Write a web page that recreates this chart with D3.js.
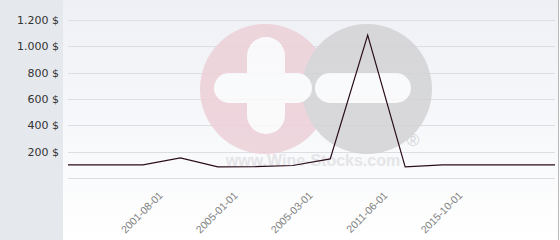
<!DOCTYPE html>
<html>
<head>
<meta charset="utf-8">
<title>wine price chart</title>
<style>
  body { margin: 0; background: #fff; }
  svg { display: block; }
</style>
</head>
<body>
<script src="https://d3js.org/d3.v7.min.js"></script>
<script>
// data
var xLabels = ["", "", "2001-08-01", "", "2005-01-01", "", "2005-03-01", "", "2011-06-01", "", "2015-10-01", "", "", ""];
var prices = [100, 100, 100, 152, 84, 86, 95, 145, 1086, 84, 100, 100, 100, 100];
var yTicks = [0, 200, 400, 600, 800, 1000, 1200];

var width = 560, height = 240;

var svg = d3.select("body").append("svg")
    .attr("width", width).attr("height", height);

var defs = svg.append("defs");
var grad = defs.append("linearGradient").attr("id", "bg")
    .attr("x1", 0).attr("y1", 0).attr("x2", 0).attr("y2", 1);
grad.append("stop").attr("offset", "0%").attr("stop-color", "#eef0f5");
grad.append("stop").attr("offset", "100%").attr("stop-color", "#ffffff");

// left panel + plot background
svg.append("rect").attr("x", 0).attr("y", 0).attr("width", 63).attr("height", height).attr("fill", "#e5e9ed");
svg.append("rect").attr("x", 63).attr("y", 0).attr("width", 495).attr("height", height).attr("fill", "url(#bg)");
svg.append("line").attr("x1", 558.5).attr("x2", 558.5).attr("y1", 0).attr("y2", height)
    .attr("stroke", "#b8b8b8").attr("stroke-width", 1);

var x = d3.scalePoint().domain(d3.range(prices.length)).range([68, 555]);
var y = d3.scaleLinear().domain([0, 1200]).range([178, 20]);

// gridlines
svg.append("g").selectAll("line").data(yTicks).enter().append("line")
    .attr("x1", 68).attr("x2", 555)
    .attr("y1", function (d) { return Math.round(y(d)) + 0.5; })
    .attr("y2", function (d) { return Math.round(y(d)) + 0.5; })
    .attr("stroke", "#dddee2").attr("stroke-width", 1);

// watermark
var wm = svg.append("g").attr("opacity", 0.85);
wm.append("circle").attr("cx", 265).attr("cy", 89).attr("r", 65).attr("fill", "#edd0d8");
wm.append("circle").attr("cx", 367).attr("cy", 89).attr("r", 65).attr("fill", "#d3d3d5");
wm.append("rect").attr("x", 247).attr("y", 37).attr("width", 38).attr("height", 97).attr("rx", 19).attr("fill", "#fbfbfc");
wm.append("rect").attr("x", 214).attr("y", 73).attr("width", 98).attr("height", 30).attr("rx", 15).attr("fill", "#fbfbfc");
wm.append("rect").attr("x", 315).attr("y", 73).attr("width", 96).attr("height", 30).attr("rx", 15).attr("fill", "#fbfbfc");
wm.append("text").text("www.Wine-Stocks.com")
    .attr("x", 313).attr("y", 166).attr("text-anchor", "middle")
    .attr("font-family", "Liberation Sans, Arial, sans-serif").attr("font-weight", "bold")
    .attr("font-size", "16px").attr("fill", "#e2e2e4");
wm.append("text").text("\u00ae")
    .attr("x", 413).attr("y", 146).attr("text-anchor", "middle")
    .attr("font-family", "Liberation Sans, Arial, sans-serif")
    .attr("font-size", "17px").attr("fill", "#d0d0d2");

// y axis labels
var fmt = d3.format(",");
svg.append("g").selectAll("text").data(yTicks.filter(function (d) { return d > 0; })).enter().append("text")
    .text(function (d) { return fmt(d).replace(",", ".") + " $"; })
    .attr("x", 59).attr("y", function (d) { return y(d); })
    .attr("dy", "0.35em").attr("text-anchor", "end")
    .attr("font-family", "DejaVu Sans, sans-serif").attr("font-size", "11px")
    .attr("fill", "#333");

// x axis labels
var xAxis = d3.axisBottom(x)
    .tickValues(d3.range(prices.length).filter(function (i) { return xLabels[i] !== ""; }))
    .tickFormat(function (i) { return xLabels[i]; })
    .tickSize(0);
var gx = svg.append("g").attr("transform", "translate(0,196)").call(xAxis);
gx.select(".domain").remove();
gx.selectAll("text")
    .attr("font-family", "Liberation Sans, Arial, sans-serif").attr("font-size", "10.5px")
    .attr("fill", "#808080")
    .attr("text-anchor", "end")
    .attr("y", 0).attr("dy", 0)
    .attr("transform", "translate(20,0) rotate(-45)");

// price line
var line = d3.line()
    .x(function (d, i) { return x(i); })
    .y(function (d) { return y(d); });
svg.append("path").datum(prices)
    .attr("d", line)
    .attr("fill", "none").attr("stroke", "#2a0d1b").attr("stroke-width", 1.2);
</script>
</body>
</html>
